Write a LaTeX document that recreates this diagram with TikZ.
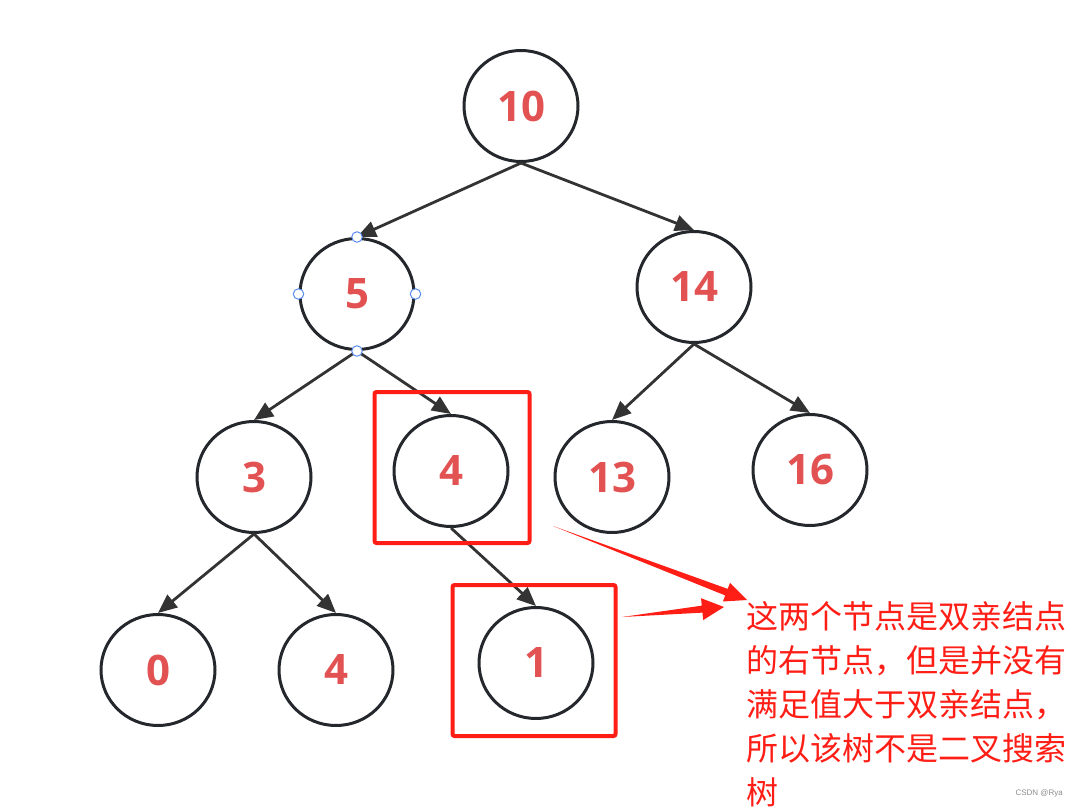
\documentclass[tikz,border=0pt]{standalone}
\usepackage{fontspec}
\usetikzlibrary{shapes.geometric,arrows.meta,calc}
\newfontfamily\numfont{Open Sans}[BoldFont={* Bold}]
\newfontfamily\cjk{Noto Sans CJK SC}
\newfontfamily\wmfont{Liberation Sans}
\definecolor{nodeline}{RGB}{36,39,44}
\definecolor{edgec}{RGB}{51,51,51}
\definecolor{labelc}{RGB}{226,82,82}
\definecolor{redc}{RGB}{255,30,22}
\definecolor{handle}{RGB}{90,140,240}
\begin{document}
\begin{tikzpicture}[x=1pt,y=-1pt,
  tnode/.style={ellipse,draw=nodeline,line width=3pt,minimum width=114pt,minimum height=111pt,inner sep=0pt,
    text=labelc,font=\numfont\bfseries\fontsize{42}{42}\selectfont},
  edge/.style={draw=edgec,line width=2.8pt,-{Triangle[length=19pt,width=16pt]}},
  redbox/.style={draw=redc,line width=4pt,rounded corners=2pt,minimum width=155pt,minimum height=151pt,inner sep=0pt},
  hdl/.style={circle,draw=handle,fill=white,line width=1pt,minimum size=10.5pt,inner sep=0pt},
  redarrow/.style={fill=redc}]
\useasboundingbox (0,0) rectangle (1077,808);
% nodes
\node[tnode] (n10) at (521,106) {10};
\node[tnode] (n5) at (357,294) {5};
\node[tnode] (n14) at (694,287) {14};
\node[tnode] (n3) at (254,477) {3};
\node[tnode] (n4) at (451,471) {4};
\node[tnode] (n13) at (612,477) {13};
\node[tnode] (n16) at (810,470) {16};
\node[tnode] (n0) at (158,670) {0};
\node[tnode] (n4b) at (336,670) {4};
\node[tnode] (n1) at (536,663) {1};
% edges
\draw[edge] (n10.south) -- (n5.north);
\draw[edge] (n10.south) -- (n14.north);
\draw[edge] (n5.south) -- (n3.north);
\draw[edge] (n5.south) -- (n4.north);
\draw[edge] (n14.south) -- (n13.north);
\draw[edge] (n14.south) -- (n16.north);
\draw[edge] (n3.south) -- (n0.north);
\draw[edge] (n3.south) -- (n4b.north);
\draw[edge] (n4.south) -- (n1.north);
% selection handles on node 5
\foreach \a in {north,south,east,west} \node[hdl] at (n5.\a) {};
% red boxes
\node[redbox] (box1) at (452,467.5) {};
\node[redbox,minimum width=163pt,minimum height=151pt] (box2) at (534,660.5) {};
% annotation text
\node[anchor=north west,inner sep=0pt,align=left,text=redc,
  font=\cjk\fontsize{32}{44}\selectfont] (note) at (746,601)
  {这两个节点是双亲结点\\的右节点，但是并没有\\满足值大于双亲结点，\\所以该树不是二叉搜索\\树};
% red tapering arrows
\coordinate (s1) at (553,526);
\coordinate (t1) at (747,600);
\coordinate (b1) at ($(t1)!22pt!(s1)$);
\fill[redarrow] (s1) -- ($(b1)!3.5pt!90:(t1)$) -- ($(b1)!10pt!90:(t1)$) -- (t1)
  -- ($(b1)!10pt!-90:(t1)$) -- ($(b1)!3.5pt!-90:(t1)$) -- cycle;
\coordinate (s2) at (622,617);
\coordinate (t2) at (724,607);
\coordinate (b2) at ($(t2)!22pt!(s2)$);
\fill[redarrow] (s2) -- ($(b2)!3.5pt!90:(t2)$) -- ($(b2)!11pt!90:(t2)$) -- (t2)
  -- ($(b2)!11pt!-90:(t2)$) -- ($(b2)!3.5pt!-90:(t2)$) -- cycle;
% watermark
\node[anchor=east,inner sep=0pt,text=black!45,font=\wmfont\fontsize{8}{8}\selectfont] (wm) at (1063,793) {CSDN @Rya};
\end{tikzpicture}
\end{document}
